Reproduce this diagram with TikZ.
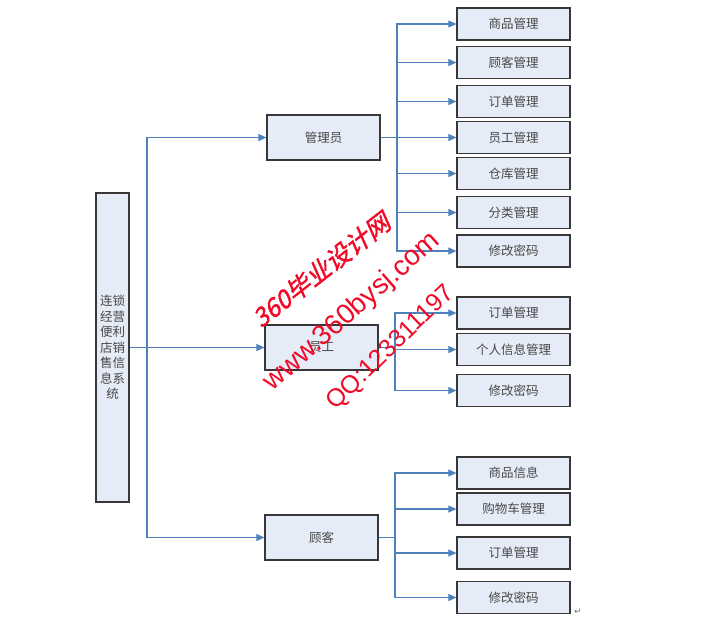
\documentclass[tikz,border=0pt]{standalone}
\usepackage{fontspec}
\setmainfont{Liberation Sans}
\newfontfamily\cjk{Noto Sans CJK SC}
\newfontfamily\wmcjk[FakeSlant=0.25,FakeBold=1.5]{Noto Sans CJK SC}
\newfontfamily\wmlat{Liberation Sans}
\newfontfamily\symf{DejaVu Sans}
\usetikzlibrary{arrows.meta}
\definecolor{boxfill}{RGB}{230,236,247}
\definecolor{linkblue}{RGB}{79,129,189}
\definecolor{wmred}{RGB}{240,10,40}
\tikzset{
  box/.style={draw=black!78, line width=1.2pt, fill=boxfill, inner sep=0pt,
    text=black!72, font=\cjk\fontsize{12.5}{15.5}\selectfont},
  leaf/.style={box, minimum width=113pt, minimum height=32pt},
  mid/.style={box, minimum width=113pt, minimum height=45pt},
  link/.style={draw=linkblue, line width=1.1pt, -{Triangle[length=8pt,width=7pt]}},
  bus/.style={draw=linkblue, line width=1.1pt},
  wm/.style={text=wmred, inner sep=0pt}
}
\begin{document}
\begin{tikzpicture}[x=1pt,y=-1pt]
\useasboundingbox (0,0) rectangle (708,619);
% root
\node[box, minimum width=33pt, minimum height=309pt, align=center] (root) at (112.5,347.5)
  {连锁\\经营\\便利\\店销\\售信\\息系\\统};
% middle level
\node[mid] (admin) at (323.5,137.5) {管理员};
\node[mid] (staff) at (321.5,347.5) {员工};
\node[mid] (cust) at (321.5,537.5) {顾客};
% admin leaves
\node[leaf] (a1) at (513.5,24) {商品管理};
\node[leaf] (a2) at (513.5,62.5) {顾客管理};
\node[leaf] (a3) at (513.5,101.5) {订单管理};
\node[leaf] (a4) at (513.5,137.5) {员工管理};
\node[leaf] (a5) at (513.5,173.5) {仓库管理};
\node[leaf] (a6) at (513.5,212.5) {分类管理};
\node[leaf] (a7) at (513.5,251) {修改密码};
% staff leaves
\node[leaf] (s1) at (513.5,313) {订单管理};
\node[leaf] (s2) at (513.5,349.5) {个人信息管理};
\node[leaf] (s3) at (513.5,390.5) {修改密码};
% customer leaves
\node[leaf] (c1) at (513.5,473) {商品信息};
\node[leaf] (c2) at (513.5,509) {购物车管理};
\node[leaf] (c3) at (513.5,553) {订单管理};
\node[leaf] (c4) at (513.5,597.5) {修改密码};
% connectors from root
\coordinate (rb) at (147,347.5);
\draw[link] (root.east) -- (staff.west);
\draw[link] (rb) |- (admin.west);
\draw[link] (rb) |- (cust.west);
% admin bus
\coordinate (ab) at (397,137.5);
\draw[bus] (admin.east) -- (ab);
\foreach \t in {a1,a2,a3,a4,a5,a6,a7} \draw[link] (ab) |- (\t.west);
% staff bus
\coordinate (sb) at (395,347.5);
\draw[bus] (staff.east) -- (sb);
\foreach \t in {s1,s2,s3} \draw[link] (sb) |- (\t.west);
% customer bus
\coordinate (cb) at (395,537.5);
\draw[bus] (cust.east) -- (cb);
\foreach \t in {c1,c2,c3,c4} \draw[link] (cb) |- (\t.west);
% paragraph mark
\node[text=black!55, font=\symf\fontsize{9}{9}\selectfont, inner sep=0pt] (pm) at (578,612) {↵};
% watermark
\node[wm, rotate=38, font=\wmcjk\fontsize{25}{25}\selectfont] (w1) at (321,270) {360毕业设计网};
\node[wm, rotate=41.5, font=\wmlat\fontsize{28}{28}\selectfont] (w2) at (352,312) {www.360bysj.com};
\node[wm, rotate=44, font=\wmlat\fontsize{25}{25}\selectfont] (w3) at (391,348) {QQ:123311197};
\end{tikzpicture}
\end{document}
